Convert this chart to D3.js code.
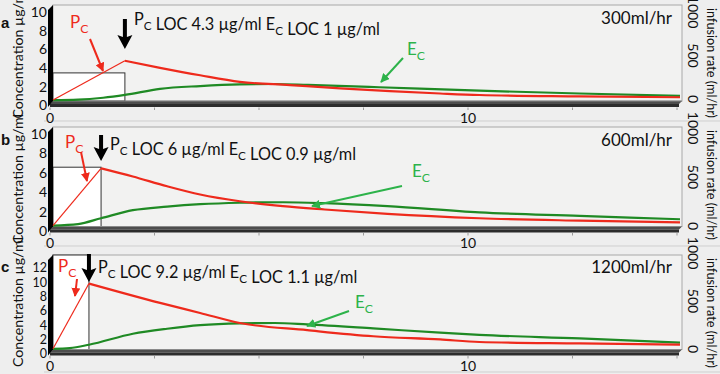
<!DOCTYPE html>
<html>
<head>
<meta charset="utf-8">
<script src="https://cdn.jsdelivr.net/npm/d3@7"></script>
<style>
  body { margin: 0; background: #eeeeee; }
  svg { display: block; }
</style>
</head>
<body>
<div id="chart"></div>
<script>
// ---- data ----
const panelNames = ['a', 'b', 'c'];
const infusionRates = [300, 600, 1200];          // ml/hr
const rateLabels = ['300ml/hr', '600ml/hr', '1200ml/hr'];
const pcLoc = ['4.3', '6', '9.2'];               // µg/ml
const ecLoc = ['1', '0.9', '1.1'];
const infusionEnd = [1.72, 1.15, 0.86];          // end of infusion (x units)

const pcTimesA  = [0, 1.72, 2.56, 3.52, 4.47, 5.67, 6.87, 8.06, 9.26, 10.2, 12.6, 15.0];
const pcValuesA = [0.1, 4.3, 3.55, 2.75, 2.05, 1.7, 1.35, 1.05, 0.8, 0.64, 0.5, 0.4];
const ecTimesA  = [0, 0.6, 1.2, 1.72, 2.56, 3.52, 4.47, 5.3, 6.1, 7.8, 10.2, 12.6, 15.0];
const ecValuesA = [0.1, 0.15, 0.35, 0.65, 1.3, 1.6, 1.78, 1.82, 1.72, 1.47, 1.1, 0.8, 0.55];

const pcTimesB  = [0, 1.15, 1.91, 2.73, 3.52, 4.47, 5.5, 6.5, 8.0, 10.2, 12.6, 15.0];
const pcValuesB = [0.1, 6.0, 5.15, 4.15, 3.3, 2.6, 2.1, 1.75, 1.3, 0.85, 0.6, 0.42];
const ecTimesB  = [0, 0.6, 1.15, 1.91, 2.73, 3.52, 4.47, 5.5, 6.5, 8.0, 10.2, 12.6, 15.0];
const ecValuesB = [0.1, 0.25, 0.85, 1.68, 2.05, 2.3, 2.45, 2.5, 2.4, 2.1, 1.45, 1.1, 0.75];

const pcTimesC  = [0, 0.86, 2.56, 3.52, 4.47, 6.08, 7.66, 9.26, 10.2, 12.6, 15.0];
const pcValuesC = [0.1, 9.2, 6.5, 5.1, 3.7, 2.7, 1.85, 1.4, 1.05, 0.85, 0.68];
const ecTimesC  = [0, 0.4, 0.86, 1.91, 2.73, 3.52, 4.47, 5.3, 6.08, 7.66, 9.26, 10.2, 12.6, 15.0];
const ecValuesC = [0.1, 0.2, 0.66, 2.2, 2.9, 3.4, 3.65, 3.7, 3.5, 2.95, 2.35, 2.05, 1.55, 0.95];

const concTicksAB = [0, 2, 4, 6, 8, 10];
const concTicksC = [0, 2, 4, 6, 8, 10, 12];
const rateTicks = [0, 500, 1000];
const timeTicks = [0, 2.5, 5, 7.5, 10, 12.5, 15];
const timeTickLabels = [0, 10];

// ---- layout ----
const W = 720, H = 374;
const FONT = 'Lato, "Open Sans", sans-serif';
const RED = '#ee2a1c', GREEN_LINE = '#1f8a24', GREEN_TXT = '#2db34a';
const DX = 3, DY = -4.5;   // depth offset of back plane

const panels = [
  { top: 5,   conc: [0, 10], front: [105.5, 12],  rate: [99, 12],   ticks: concTicksAB, tickSize: 14,
    pc: [pcTimesA, pcValuesA], ec: [ecTimesA, ecValuesA],
    lblY: 28, locY: 25, rateY: 24, ecLbl: [407, 55], ecArrow: [[403, 58], [381, 82]],
    pcLbl: [70, 28], pcArrow: [[90, 39], [103, 71]], blackArrow: [19, 49] },
  { top: 127, conc: [0, 10], front: [231, 134],   rate: [226, 128], ticks: concTicksAB, tickSize: 14,
    pc: [pcTimesB, pcValuesB], ec: [ecTimesB, ecValuesB],
    lblY: 145, locY: 150, rateY: 146, ecLbl: [412, 177], ecArrow: [[402, 186], [312, 206]],
    pcLbl: [65, 148], pcArrow: [[81, 152], [87, 181]], blackArrow: [135, 161] },
  { top: 255, conc: [0, 12], front: [354, 268],   rate: [349, 253], ticks: concTicksC, tickSize: 12.5,
    pc: [pcTimesC, pcValuesC], ec: [ecTimesC, ecValuesC],
    lblY: 272, locY: 273, rateY: 273, ecLbl: [355, 308], ecArrow: [[349, 311], [307, 326]],
    pcLbl: [58, 272], pcArrow: [[77, 279], [75, 296]], blackArrow: [254, 282] }
];

const xFront = d3.scaleLinear().domain([0, 10]).range([50, 468]);
const xBack = d3.scaleLinear().domain([0, 10]).range([50 + DX, 468 + DX]);
const xEnd = 682;

const svg = d3.select('#chart').append('svg')
  .attr('width', W).attr('height', H);

svg.append('rect').attr('width', W).attr('height', H).attr('fill', '#eeeeee');

const defs = svg.append('defs');
function marker(id, color, size) {
  defs.append('marker')
    .attr('id', id).attr('viewBox', '0 0 10 10')
    .attr('refX', 9).attr('refY', 5)
    .attr('markerWidth', size).attr('markerHeight', size)
    .attr('markerUnits', 'userSpaceOnUse')
    .attr('orient', 'auto')
    .append('path').attr('d', 'M0,0L10,5L0,10Z').attr('fill', color);
}
marker('head-red', RED, 9);
marker('head-green', GREEN_TXT, 9);

// separator lines between panels
[121, 246, 372].forEach(y => {
  svg.append('line').attr('x1', 44).attr('x2', W).attr('y1', y).attr('y2', y)
    .attr('stroke', '#cfcfcf').attr('stroke-width', 1);
});

function subText(g, x, y, parts, opts) {
  const t = g.append('text').attr('x', x).attr('y', y)
    .attr('font-family', FONT).attr('font-size', opts.size + 'px')
    .attr('fill', opts.color || '#111');
  parts.forEach(p => {
    if (p.sub) {
      t.append('tspan').attr('font-size', (opts.size * 0.72) + 'px').attr('dy', 5).text(p.sub);
      t.append('tspan').attr('dy', -5).text('');
    } else {
      t.append('tspan').text(p.t);
    }
  });
  return t;
}

panels.forEach((p, i) => {
  const g = svg.append('g');
  const yFront = d3.scaleLinear().domain(p.conc).range(p.front);
  const yBack = d3.scaleLinear().domain(p.conc).range([p.front[0] + DY, p.front[1] + DY]);
  const yRate = d3.scaleLinear().domain([0, 1000]).range(p.rate);
  const zB = yBack(0), zF = yFront(0);
  const x0 = xBack(0);

  // back wall
  g.append('rect').attr('x', x0).attr('y', p.top)
    .attr('width', xEnd - x0).attr('height', zB - p.top)
    .attr('fill', '#f2f2f1').attr('stroke', '#a8a8a8').attr('stroke-width', 1);

  // infusion rate block
  const rTop = Math.max(p.top, yRate(infusionRates[i]));
  g.append('rect').attr('x', x0).attr('y', rTop)
    .attr('width', xBack(infusionEnd[i]) - x0).attr('height', zB - rTop)
    .attr('fill', '#ffffff').attr('stroke', '#333').attr('stroke-width', 1);

  // floor slab
  g.append('path')
    .attr('d', `M${x0},${zB}L${xEnd},${zB}L${xEnd - 3},${zF - 1.5}L${x0 - 3},${zF - 1.5}Z`)
    .attr('fill', '#4d4d4d');
  g.append('path')
    .attr('d', `M${x0 - 3},${zF - 1.5}L${xEnd - 3},${zF - 1.5}L${xEnd - 3},${zF + 1.5}L${x0 - 3},${zF + 1.5}Z`)
    .attr('fill', '#2c2c2c');
  g.append('line').attr('x1', x0).attr('x2', xEnd).attr('y1', zB).attr('y2', zB)
    .attr('stroke', '#8a8a8a').attr('stroke-width', 1);

  // left wall
  g.append('path')
    .attr('d', `M${x0 - 5},${p.top + 5}L${x0},${p.top}L${x0},${zB}L${x0 - 5},${zF + 1.5}Z`)
    .attr('fill', '#000');

  // x ticks
  timeTicks.forEach(t => {
    g.append('line').attr('x1', xFront(t)).attr('x2', xFront(t))
      .attr('y1', zF + 2).attr('y2', zF + 4.5)
      .attr('stroke', '#9a9a9a').attr('stroke-width', 1);
  });
  timeTickLabels.forEach(t => {
    g.append('text').attr('x', xFront(t)).attr('y', zF + 17)
      .attr('text-anchor', 'middle').attr('font-family', FONT).attr('font-size', '14px')
      .attr('fill', '#111').text(t);
  });

  // left axis
  p.ticks.forEach(v => {
    g.append('text').attr('x', 47).attr('y', yFront(v)).attr('dy', '0.35em')
      .attr('text-anchor', 'end').attr('font-family', FONT).attr('font-size', p.tickSize + 'px')
      .attr('fill', '#111').text(v);
  });
  g.append('text')
    .attr('transform', `translate(23,${zF + 13}) rotate(-90)`)
    .attr('font-family', FONT).attr('font-size', '14px').attr('fill', '#111')
    .attr('textLength', 130).attr('lengthAdjust', 'spacingAndGlyphs')
    .text('Concentration µg/ml');

  // right axis (infusion rate)
  rateTicks.forEach(v => {
    g.append('text')
      .attr('transform', `translate(688,${yRate(v)}) rotate(90)`)
      .attr('text-anchor', 'middle').attr('font-family', FONT).attr('font-size', '14px')
      .attr('fill', '#111').text(v);
  });
  g.append('text')
    .attr('transform', `translate(707,${p.top + 3}) rotate(90)`)
    .attr('font-family', FONT).attr('font-size', '14px').attr('fill', '#111')
    .attr('textLength', 110).attr('lengthAdjust', 'spacingAndGlyphs')
    .text('infusion rate (ml/hr)');

  // concentration curves
  const line = d3.line()
    .x(d => xBack(d[0])).y(d => yBack(d[1]))
    .curve(d3.curveMonotoneX);
  const pcPts = p.pc[0].map((t, k) => [t, p.pc[1][k]]);
  const ecPts = p.ec[0].map((t, k) => [t, p.ec[1][k]]);

  g.append('path').attr('d', line(ecPts))
    .attr('fill', 'none').attr('stroke', GREEN_LINE).attr('stroke-width', 2.2);
  g.append('path').attr('d', d3.line().x(d => xBack(d[0])).y(d => yBack(d[1]))(pcPts.slice(0, 2)))
    .attr('fill', 'none').attr('stroke', RED).attr('stroke-width', 1.2);
  g.append('path').attr('d', line(pcPts.slice(1)))
    .attr('fill', 'none').attr('stroke', RED).attr('stroke-width', 2.2);

  // panel letter
  g.append('text').attr('x', 1).attr('y', p.lblY)
    .attr('font-family', '"Liberation Sans", Arial, sans-serif').attr('font-weight', 'bold')
    .attr('font-size', '15px').attr('fill', '#111').text(panelNames[i]);

  // black arrow at end of infusion
  const ax = xBack(infusionEnd[i]);
  const [ay1, ay2] = p.blackArrow;
  g.append('path')
    .attr('d', `M${ax - 2},${ay1}L${ax + 2},${ay1}L${ax + 2},${ay2 - 12}L${ax + 7.5},${ay2 - 14}L${ax},${ay2}L${ax - 7.5},${ay2 - 14}L${ax - 2},${ay2 - 12}Z`)
    .attr('fill', '#000');

  // LOC caption
  subText(g, ax + 9, p.locY, [
    { t: 'P' }, { sub: 'C' }, { t: ' LOC ' + pcLoc[i] + ' µg/ml E' }, { sub: 'C' },
    { t: ' LOC ' + ecLoc[i] + ' µg/ml' }
  ], { size: 16.3 });

  // rate caption
  g.append('text').attr('x', 672).attr('y', p.rateY).attr('text-anchor', 'end')
    .attr('font-family', FONT).attr('font-size', '17px').attr('fill', '#111')
    .text(rateLabels[i]);

  // Pc label + arrow
  subText(g, p.pcLbl[0], p.pcLbl[1], [{ t: 'P' }, { sub: 'C' }], { size: 17, color: RED });
  g.append('line')
    .attr('x1', p.pcArrow[0][0]).attr('y1', p.pcArrow[0][1])
    .attr('x2', p.pcArrow[1][0]).attr('y2', p.pcArrow[1][1])
    .attr('stroke', RED).attr('stroke-width', 2).attr('marker-end', 'url(#head-red)');

  // Ec label + arrow
  subText(g, p.ecLbl[0], p.ecLbl[1], [{ t: 'E' }, { sub: 'C' }], { size: 17, color: GREEN_TXT });
  g.append('line')
    .attr('x1', p.ecArrow[0][0]).attr('y1', p.ecArrow[0][1])
    .attr('x2', p.ecArrow[1][0]).attr('y2', p.ecArrow[1][1])
    .attr('stroke', GREEN_TXT).attr('stroke-width', 2).attr('marker-end', 'url(#head-green)');
});
</script>
</body>
</html>
